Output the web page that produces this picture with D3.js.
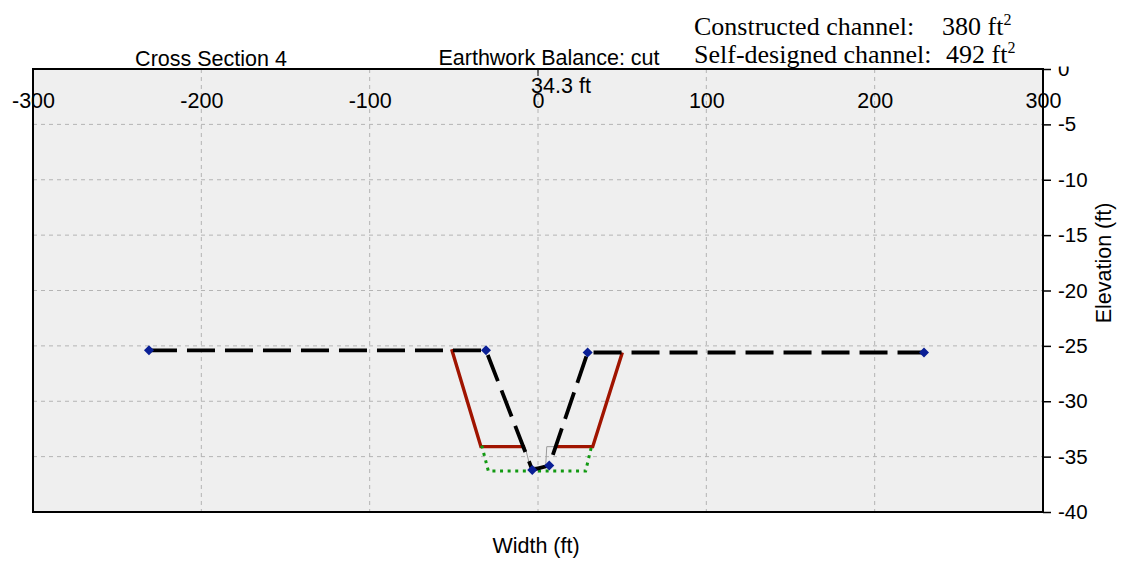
<!DOCTYPE html>
<html>
<head>
<meta charset="utf-8">
<title>Cross Section 4</title>
<script src="https://d3js.org/d3.v7.min.js"></script>
<style>
  body { margin: 0; background: #fff; }
  text { font-family: "Liberation Sans", Arial, sans-serif; }
</style>
</head>
<body>
<div id="chart"></div>
<script>
// tick values
const xTicks = [-300, -200, -100, 0, 100, 200, 300];
const yTicks = [0, -5, -10, -15, -20, -25, -30, -35, -40];

// surveyed section (black dashed, blue markers)
const surveyX = [-231.1, -30.9, -3.4, 6.7, 29.5, 229.3];
const surveyY = [-25.4, -25.4, -36.2, -35.8, -25.6, -25.6];

// constructed channel (red)
const redLeftX = [-51.3, -33.9, -7.7];
const redLeftY = [-25.3, -34.1, -34.1];
const redRightX = [10.1, 32.5, 50.1];
const redRightY = [-34.1, -34.1, -25.6];

// thin grey notch
const notchX = [-7.7, -4.7, 4.5, 5.2, 10.1];
const notchY = [-34.1, -35.9, -36.0, -34.1, -34.1];

// self-designed channel (green dotted)
const greenX = [-33.4, -29.5, 28.3, 31.9];
const greenY = [-34.0, -36.3, -36.3, -34.0];

// area summary
const areaLabels = ["Constructed channel:", "Self-designed channel:"];
const areaValues = [380, 492];

const W = 1130, H = 563;
const plot = {left: 33, right: 1043, top: 69, bottom: 512};
const fs = 21.5;

const svg = d3.select("#chart").append("svg")
    .attr("width", W).attr("height", H);

const x = d3.scaleLinear().domain([-300, 300]).range([plot.left, plot.right]);
const y = d3.scaleLinear().domain([-40, 0]).range([plot.bottom, plot.top]);

// plot background
svg.append("rect")
    .attr("x", plot.left).attr("y", plot.top)
    .attr("width", plot.right - plot.left).attr("height", plot.bottom - plot.top)
    .attr("fill", "#efefef");

// grid
svg.append("g").selectAll("line")
    .data(xTicks.slice(1, -1)).enter().append("line")
    .attr("x1", d => x(d)).attr("x2", d => x(d))
    .attr("y1", plot.top).attr("y2", plot.bottom)
    .attr("stroke", "#b4b4b4").attr("stroke-width", 1)
    .attr("stroke-dasharray", "4,4");
svg.append("g").selectAll("line")
    .data(yTicks.slice(1, -1)).enter().append("line")
    .attr("x1", plot.left).attr("x2", plot.right)
    .attr("y1", d => y(d)).attr("y2", d => y(d))
    .attr("stroke", "#b4b4b4").attr("stroke-width", 1)
    .attr("stroke-dasharray", "4,4");

const line = d3.line().x(d => x(d[0])).y(d => y(d[1]));
const pts = (xs, ys) => xs.map((v, i) => [v, ys[i]]);

// grey notch
svg.append("path").datum(pts(notchX, notchY))
    .attr("d", line).attr("fill", "none")
    .attr("stroke", "#9a9a9a").attr("stroke-width", 1);

// red constructed channel
[pts(redLeftX, redLeftY), pts(redRightX, redRightY)].forEach(p => {
    svg.append("path").datum(p)
        .attr("d", line).attr("fill", "none")
        .attr("stroke", "#a01400").attr("stroke-width", 3.4);
});

// green dotted
svg.append("path").datum(pts(greenX, greenY))
    .attr("d", line).attr("fill", "none")
    .attr("stroke", "#119911").attr("stroke-width", 3)
    .attr("stroke-dasharray", "3,4.6");

// black dashed survey line
svg.append("path").datum(pts(surveyX, surveyY))
    .attr("d", line).attr("fill", "none")
    .attr("stroke", "#000").attr("stroke-width", 3.8)
    .attr("stroke-dasharray", "28,10");

// markers
svg.append("g").selectAll("path")
    .data(pts(surveyX, surveyY)).enter().append("path")
    .attr("d", d3.symbol().type(d3.symbolDiamond2).size(64))
    .attr("transform", d => "translate(" + x(d[0]) + "," + y(d[1]) + ")")
    .attr("fill", "#0a1f96");

// x tick labels (inside, under the top edge)
const xAxis = d3.axisBottom(x).tickValues(xTicks)
    .tickSize(0).tickPadding(24).tickFormat(d => String(d));
const gx = svg.append("g").attr("transform", "translate(0," + plot.top + ")").call(xAxis);
gx.select(".domain").remove();
gx.selectAll("text").attr("font-size", fs).attr("fill", "#000")
    .style("font-family", "'Liberation Sans', Arial, sans-serif");

// small tick at x = 0 on the top edge
svg.append("line")
    .attr("x1", x(0)).attr("x2", x(0))
    .attr("y1", plot.top).attr("y2", plot.top + 7)
    .attr("stroke", "#000").attr("stroke-width", 1);

// border
svg.append("rect")
    .attr("x", plot.left).attr("y", plot.top)
    .attr("width", plot.right - plot.left).attr("height", plot.bottom - plot.top)
    .attr("fill", "none").attr("stroke", "#000").attr("stroke-width", 2);

// right y axis
const yAxis = d3.axisRight(y).tickValues(yTicks)
    .tickSizeInner(8).tickSizeOuter(0).tickPadding(7).tickFormat(d => String(d));
const gy = svg.append("g").attr("transform", "translate(" + plot.right + ",0)").call(yAxis);
gy.select(".domain").remove();
gy.selectAll("line").attr("stroke", "#000").attr("stroke-width", 1.5);
gy.selectAll("text").attr("font-size", 20.5).attr("fill", "#000")
    .style("font-family", "'Liberation Sans', Arial, sans-serif");

// axis titles
svg.append("text")
    .attr("x", 536).attr("y", 553)
    .attr("text-anchor", "middle").attr("font-size", fs)
    .text("Width (ft)");
svg.append("text")
    .attr("transform", "translate(1111,263) rotate(-90)")
    .attr("text-anchor", "middle").attr("font-size", fs)
    .text("Elevation (ft)");

// titles above plot
svg.append("text")
    .attr("x", 211).attr("y", 66)
    .attr("text-anchor", "middle").attr("font-size", fs)
    .text("Cross Section 4");
svg.append("text")
    .attr("x", 549).attr("y", 65)
    .attr("text-anchor", "middle").attr("font-size", fs)
    .text("Earthwork Balance: cut");
svg.append("text")
    .attr("x", 561).attr("y", 93)
    .attr("text-anchor", "middle").attr("font-size", fs)
    .text("34.3 ft");

// area box (white, covers top of "0")
svg.append("rect")
    .attr("x", 682).attr("y", 0).attr("width", 395).attr("height", 66.5)
    .attr("fill", "#fff");

const serif = "'Liberation Serif', 'Times New Roman', serif";
const rowY = [35, 63];
const valueX = [942, 946];
areaLabels.forEach((lab, i) => {
    svg.append("text")
        .attr("x", 694).attr("y", rowY[i]).attr("font-size", 26)
        .style("font-family", serif).text(lab);
    const t = svg.append("text")
        .attr("x", valueX[i]).attr("y", rowY[i]).attr("font-size", 26)
        .style("font-family", serif).text(areaValues[i] + " ft");
    t.append("tspan").attr("dy", -10).attr("font-size", 16).text("2");
});
</script>
</body>
</html>
